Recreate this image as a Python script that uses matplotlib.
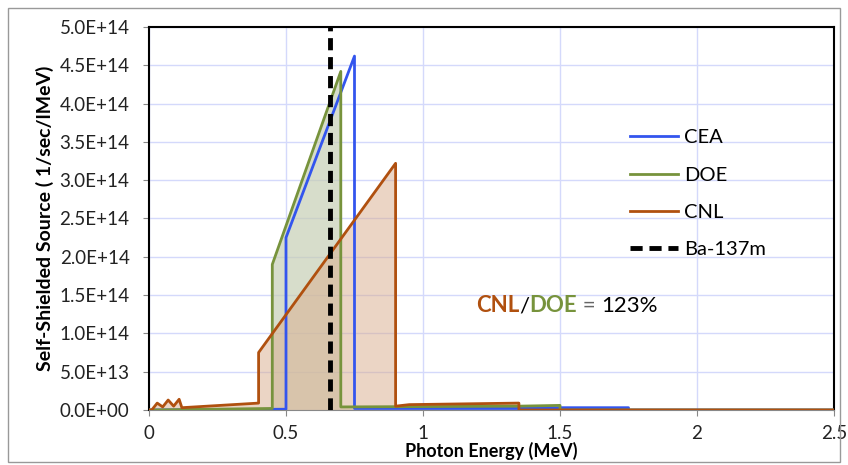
import matplotlib
matplotlib.use("Agg")
import matplotlib.pyplot as plt
from matplotlib.patches import Rectangle
from matplotlib.ticker import FuncFormatter, MultipleLocator

plt.rcParams["font.family"] = ["Lato", "DejaVu Sans"]

# photon energy (MeV) / self-shielded source (1/sec/MeV)
cea_x = [0.0, 0.5, 0.5, 0.75, 0.75, 1.35, 1.35, 1.75, 1.75, 2.5]
cea_y = [0.0, 1e12, 2.25e14, 4.62e14, 2e12, 2e12, 3e12, 3e12, 0.0, 0.0]

doe_x = [0.0, 0.45, 0.45, 0.70, 0.70, 1.35, 1.50, 1.50, 2.5]
doe_y = [0.0, 2e12, 1.90e14, 4.42e14, 4e12, 5e12, 6e12, 0.0, 0.0]

cnl_x = [0.0, 0.01, 0.03, 0.05, 0.07, 0.09, 0.11, 0.12, 0.40, 0.40, 0.90, 0.90,
         0.95, 1.15, 1.35, 1.35, 2.5]
cnl_y = [0.0, 0.0, 9e12, 4e12, 1.3e13, 5e12, 1.4e13, 3e12, 9e12, 7.5e13, 3.22e14,
         5e12, 7e12, 8e12, 9e12, 0.0, 0.0]

ba_energy = 0.662
y_max = 5e14

BLUE = "#3355ee"
GREEN = "#77933c"
BROWN = "#b0500f"


def sci_fmt(v, _):
    if v == 0:
        return "0.0E+00"
    return f"{v:.1E}"


fig = plt.figure(figsize=(8.48, 4.65), dpi=100)
ax = fig.add_axes([0.1757, 0.1183, 0.8078, 0.8237])

ax.fill_between(doe_x, doe_y, color="#c7cfb5", alpha=0.7, lw=0, zorder=1)
ax.fill_between(cnl_x, cnl_y, color="#d9ad8d", alpha=0.5, lw=0, zorder=1)

ax.plot(cea_x, cea_y, color=BLUE, lw=2, label="CEA", zorder=3)
ax.plot(doe_x, doe_y, color=GREEN, lw=2, label="DOE", zorder=3)
ax.plot(cnl_x, cnl_y, color=BROWN, lw=2, label="CNL", zorder=4)
ax.plot([ba_energy, ba_energy], [0, y_max], color="black", lw=3.5,
        ls=(0, (2.5, 1.4)), label="Ba-137m", zorder=5)

ax.set_xlim(0, 2.5)
ax.set_ylim(0, y_max)
ax.xaxis.set_major_locator(MultipleLocator(0.5))
ax.yaxis.set_major_locator(MultipleLocator(5e13))
ax.xaxis.set_major_formatter(FuncFormatter(lambda v, _: f"{v:g}"))
ax.yaxis.set_major_formatter(FuncFormatter(sci_fmt))
ax.yaxis.get_offset_text().set_visible(False)
ax.grid(True, color="#d4d9fb", lw=1)
ax.set_axisbelow(True)

for side in ("left", "top", "right"):
    ax.spines[side].set_color("black")
    ax.spines[side].set_linewidth(1.5)
ax.spines["bottom"].set_color("#888888")
ax.tick_params(axis="both", labelsize=13.5, length=4, color="#888888",
               labelcolor="#222222")
ax.tick_params(axis="x", pad=7)
ax.tick_params(axis="y", pad=10)

ax.set_xlabel("Photon Energy (MeV)", fontsize=13, fontweight="bold", labelpad=0)
ax.set_ylabel("Self-Shielded Source ( 1/sec/lMeV)", fontsize=14,
              fontweight="bold", labelpad=4)

leg = ax.legend(loc="upper left", bbox_to_anchor=(0.675, 0.78), frameon=False,
                fontsize=14.5, handlelength=2.4, labelspacing=1.0, handletextpad=0.3)

# CNL/DOE ratio annotation built from coloured pieces
tx, ty = 0.478, 0.255
t1 = ax.text(tx, ty, "CNL", transform=ax.transAxes, color=BROWN,
             fontsize=16, fontweight="bold")
fig.canvas.draw()
parts = [("/", "black", "normal"), ("DOE", GREEN, "bold"), (" = ", "#666666", "normal"),
         ("123%", "black", "normal")]
prev = t1
for txt, col, wt in parts:
    bb = prev.get_window_extent()
    x_next = ax.transAxes.inverted().transform((bb.x1, bb.y0))[0]
    prev = ax.text(x_next, ty, txt, transform=ax.transAxes, color=col,
                   fontsize=16, fontweight=wt)
    fig.canvas.draw()

fig.patches.append(Rectangle((0.009, 0.006), 0.982, 0.977, transform=fig.transFigure,
                             fill=False, edgecolor="#999999", lw=1))

fig.savefig("out.png", dpi=100)
